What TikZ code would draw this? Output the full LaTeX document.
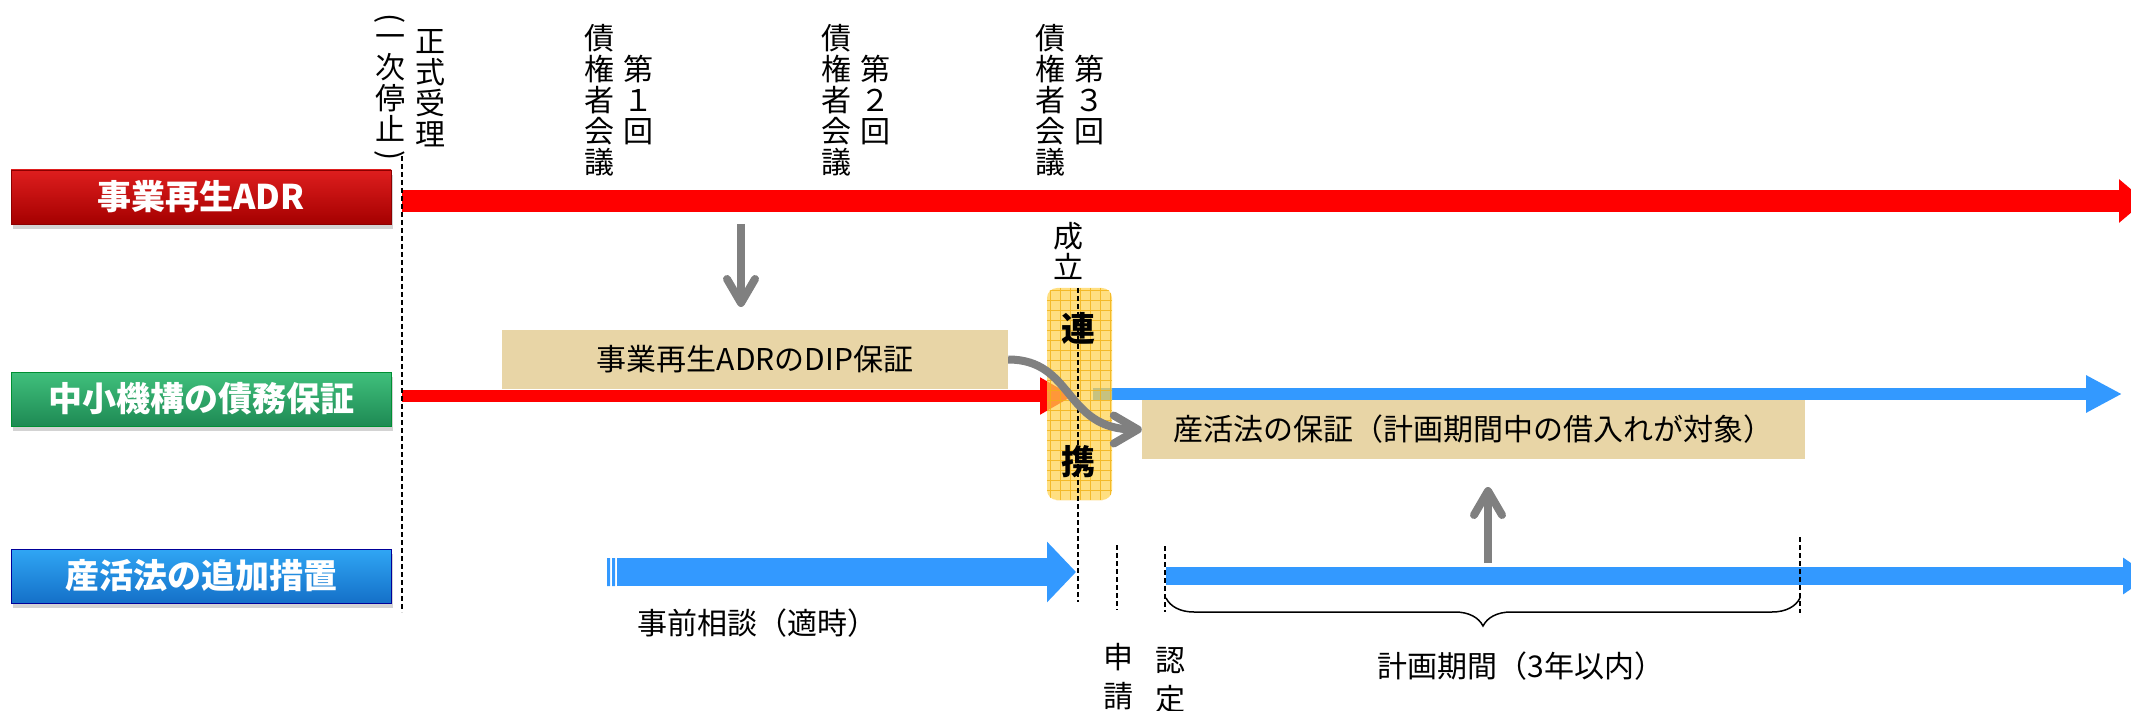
\documentclass[tikz,border=0pt]{standalone}
\usepackage{fontspec}
\setmainfont{Noto Sans CJK JP}
\usetikzlibrary{arrows.meta,positioning,shadows,decorations.pathreplacing}

\definecolor{barred}{RGB}{255,0,0}
\definecolor{barblue}{RGB}{51,153,255}
\definecolor{arrowgray}{RGB}{128,128,128}
\definecolor{paper}{RGB}{232,213,166}
\definecolor{renkeifill}{RGB}{255,210,80}
\definecolor{renkeigrid}{RGB}{242,178,20}

\tikzset{
	rowlabel/.style={minimum width=380pt, minimum height=54pt, inner sep=0pt, text=white,
		font=\fontsize{34}{36}\selectfont\bfseries, line width=0.8pt,
		drop shadow={opacity=0.35, shadow xshift=2pt, shadow yshift=-5pt}},
	paperbox/.style={fill=paper, minimum height=59pt, inner sep=0pt, font=\fontsize{30}{32}\selectfont},
	tate/.style={align=center, inner sep=0pt, font=\fontsize{30}{31}\selectfont},
	plaintext/.style={inner sep=0pt, font=\fontsize{30}{32}\selectfont},
	markline/.style={dash pattern=on 5pt off 3pt, line width=1.4pt},
	grayarrow/.style={draw=arrowgray, line width=8pt, -{Straight Barb[length=24pt,width=28pt,round]}}
}

\begin{document}
\begin{tikzpicture}[x=1pt, y=-1pt]
	\useasboundingbox (0,0) rectangle (2131,711);
	\clip (0,0) rectangle (2131,711);

	% row labels
	\node [rowlabel, draw=black!45!red, top color={rgb,255:red,222;green,30;blue,30}, bottom color={rgb,255:red,165;green,0;blue,0}] (adr) at (201,197) {事業再生ADR};
	\node [rowlabel, draw=black!40!green!60!teal, top color={rgb,255:red,64;green,192;blue,124}, bottom color={rgb,255:red,30;green,138;blue,84}] (kikou) at (201,399) {中小機構の債務保証};
	\node [rowlabel, draw=blue!60!black, top color={rgb,255:red,48;green,166;blue,244}, bottom color={rgb,255:red,20;green,112;blue,200}] (sankatsu) at (201,576) {産活法の追加措置};

	\coordinate (A1) at (402,201);
	\coordinate (A2) at (2145,201);
	\coordinate (B1) at (402,396);
	\coordinate (B2) at (1073,396);
	\coordinate (B3) at (1093,394);
	\coordinate (B4) at (2122,394);
	\coordinate (C1) at (617,572);
	\coordinate (C2) at (1076,572);
	\coordinate (C3) at (1166,576);
	\coordinate (C4) at (2150,576);

	\draw [barred, line width=22pt, -{Triangle[length=26pt,width=42pt]}] (A1) -- (A2);
	\draw [barred, line width=12pt, -{Triangle[length=33pt,width=35pt]}] (B1) -- (B2);
	\draw [barblue, line width=12pt, -{Triangle[length=36pt,width=35pt]}] (B3) -- (B4);
	\fill [barblue] (607,558) rectangle (610,586) (612,558) rectangle (615,586);
	\draw [barblue, line width=28pt, -{Triangle[length=29pt,width=59pt]}] (C1) -- (C2);
	\draw [barblue, line width=18pt, -{Triangle[length=27pt,width=35pt]}] (C3) -- (C4);

	% boxes
	\node [paperbox, minimum width=506pt] (dip) at (755,359.5) {事業再生ADRのDIP保証};
	\node [paperbox, minimum width=663pt] (hoshou) at (1473.5,429.5) {産活法の保証（計画期間中の借入れが対象）};

	\node [fill=renkeifill, fill opacity=0.72, rounded corners=10pt, minimum width=65pt, minimum height=212pt, inner sep=0pt] (renkei) at (1079.5,394) {};
	\begin{scope}
		\clip [rounded corners=10pt] (renkei.north west) rectangle (renkei.south east);
		\draw [renkeigrid, line width=0.7pt, opacity=0.8, step=10pt] (renkei.north west) grid (renkei.south east);
	\end{scope}

	% time marks
	\coordinate (T1) at (402,156);
	\coordinate (T2) at (402,612);
	\coordinate (S1) at (1078,288);
	\coordinate (S2) at (1078,602);
	\coordinate (P1) at (1117,545);
	\coordinate (P2) at (1117,610);
	\coordinate (N1) at (1165,546);
	\coordinate (N2) at (1165,612);
	\coordinate (K1) at (1800,537);
	\coordinate (K2) at (1800,613);
	\draw [markline] (T1) -- (T2);
	\draw [markline] (S1) -- (S2);
	\draw [markline] (P1) -- (P2);
	\draw [markline] (N1) -- (N2);
	\draw [markline] (K1) -- (K2);

	\node [tate] (teishi) at (390,88) {一\\次\\停\\止};
	\node [inner sep=0pt, font=\fontsize{30}{31}\selectfont] (lparen) at (390,19) {\rotatebox{-90}{(}};
	\node [inner sep=0pt, font=\fontsize{30}{31}\selectfont] (rparen) at (390,156) {\rotatebox{-90}{)}};
	\node [tate] (juri) at (430,88) {正\\式\\受\\理};
	\foreach \x/\n [count=\i] in {599/１, 836/２, 1050/３} {
		\node [tate] (kaigi\i) at (\x,100) {債\\権\\者\\会\\議};
		\node [tate] (dai\i) at (\x+39,100) {第\\\n\\回};
	}
	\node [tate] (seiritsu) at (1068,251) {成\\立};
	\node [inner sep=0pt, font=\fontsize{34}{36}\selectfont\bfseries] (ren) at (1078,328) {連};
	\node [inner sep=0pt, font=\fontsize{34}{36}\selectfont\bfseries] (kei) at (1078,462) {携};

	% gray arrows
	\coordinate (D1) at (741,224);
	\coordinate (D2) at (741,307);
	\coordinate (U1) at (1488,563);
	\coordinate (U2) at (1488,487);
	\draw [grayarrow] (D1) -- (D2);
	\draw [grayarrow] (U1) -- (U2);
	\draw [grayarrow] (dip.east) .. controls +(66,0) and +(-78,0) .. (hoshou.west);

	\draw [line width=1.5pt, decorate, decoration={brace, mirror, amplitude=28pt}] (C3 |- 0,598) -- (K1 |- 0,598);

	\node [plaintext] (jizen) at (757,623) {事前相談（適時）};
	\node [plaintext] (kikan) at (1521,666) {計画期間（3年以内）};
	\node [tate, font=\fontsize{30}{39}\selectfont] (shinsei) at (1118,677) {申\\請};
	\node [tate, font=\fontsize{30}{39}\selectfont] (nintei) at (1170,680) {認\\定};
\end{tikzpicture}
\end{document}
